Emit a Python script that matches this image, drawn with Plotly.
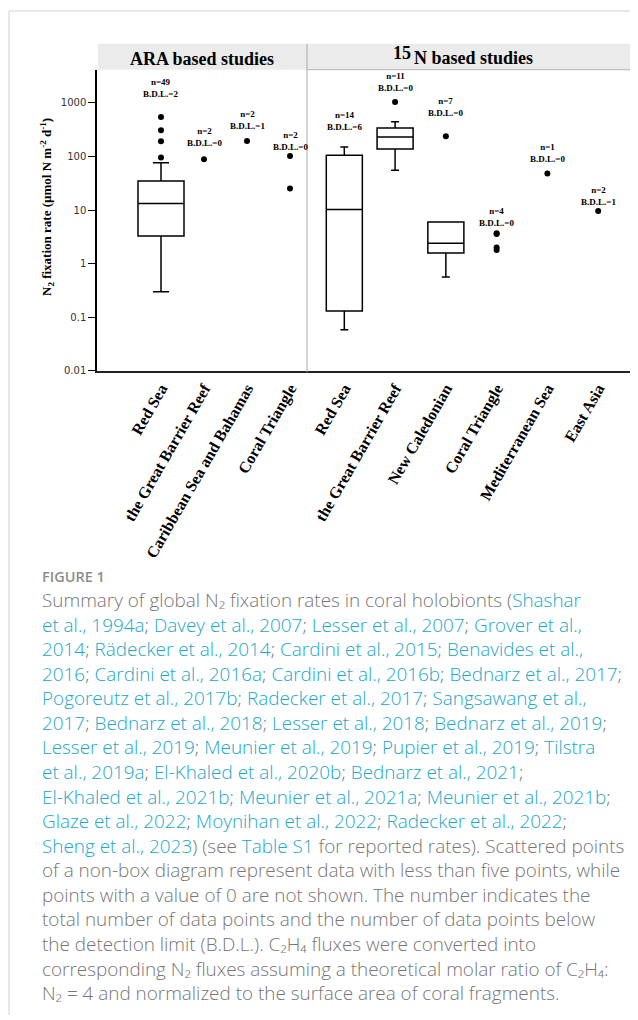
import re
import math
import plotly.graph_objects as go

# page body has an 8px margin, so the figure is 630x1012 drawn at (8, 8)
W, H = 630, 1012
OFF = 8

# ---------------- data ----------------
ara_categories = ["Red Sea", "the Great Barrier Reef", "Caribbean Sea and Bahamas", "Coral Triangle"]
n15_categories = ["Red Sea", "the Great Barrier Reef", "New Caledonian", "Coral Triangle",
                  "Mediterranean Sea", "East Asia"]

# precomputed box statistics (umol N m-2 d-1)
ara_box_cats = ["Red Sea"]
ara_box_q1 = [3.3]
ara_box_median = [13.3]
ara_box_q3 = [35]
ara_box_lower = [0.30]
ara_box_upper = [76]

n15_box_cats = ["Red Sea", "the Great Barrier Reef", "New Caledonian"]
n15_box_q1 = [0.132, 138, 1.58]
n15_box_median = [10.3, 230, 2.42]
n15_box_q3 = [105, 338, 6.0]
n15_box_lower = [0.059, 55.5, 0.566]
n15_box_upper = [150, 444, 6.0]

# individual points (outliers and small-n data)
ara_point_cats = ["Red Sea", "Red Sea", "Red Sea", "Red Sea", "the Great Barrier Reef",
                  "Caribbean Sea and Bahamas", "Coral Triangle", "Coral Triangle"]
ara_point_vals = [543, 307, 192, 96, 89, 194, 102, 25.4]
n15_point_cats = ["the Great Barrier Reef", "New Caledonian", "Coral Triangle", "Coral Triangle",
                  "Coral Triangle", "Coral Triangle", "Mediterranean Sea", "East Asia"]
n15_point_vals = [1040, 237, 3.7, 3.6, 2.0, 1.8, 48, 9.6]

ara_n = [49, 2, 2, 2]
ara_bdl = [2, 0, 1, 0]
n15_n = [14, 11, 7, 4, 1, 2]
n15_bdl = [6, 0, 0, 0, 0, 1]

y_tick_vals = [0.01, 0.1, 1, 10, 100, 1000]
y_tick_text = ["0.01", "0.1", "1", "10", "100", "1000"]


# ---------------- layout helpers ----------------
def fx(x):
    return (x - OFF) / W


def fy(y):
    return 1 - (y - OFF) / H


# annotation heights (data units) for the n / B.D.L. notes
ara_note_y = [1883, 232, 483, 194]
n15_note_y = [450, 2400, 836, 7.55, 118, 18]

SERIF = "Liberation Serif"
SANS = "Open Sans"
GRAY = "#767676"
TEAL = "#22a7c6"

fig = go.Figure()

box_line = dict(color="black", width=1.5)
fig.add_trace(go.Box(
    x=ara_box_cats, q1=ara_box_q1, median=ara_box_median, q3=ara_box_q3,
    lowerfence=ara_box_lower, upperfence=ara_box_upper,
    boxpoints=False, fillcolor="white", line=box_line, width=1.07, whiskerwidth=0.35,
    xaxis="x", yaxis="y", showlegend=False, hoverinfo="skip"))
fig.add_trace(go.Scatter(
    x=ara_point_cats, y=ara_point_vals, mode="markers",
    marker=dict(color="black", size=6), xaxis="x", yaxis="y", showlegend=False))

fig.add_trace(go.Box(
    x=n15_box_cats, q1=n15_box_q1, median=n15_box_median, q3=n15_box_q3,
    lowerfence=n15_box_lower, upperfence=n15_box_upper,
    boxpoints=False, fillcolor="white", line=box_line, width=0.71, whiskerwidth=0.22,
    xaxis="x2", yaxis="y2", showlegend=False, hoverinfo="skip"))
fig.add_trace(go.Scatter(
    x=n15_point_cats, y=n15_point_vals, mode="markers",
    marker=dict(color="black", size=6), xaxis="x2", yaxis="y2", showlegend=False))

y_dom = [fy(373), fy(70)]
y_range = [-2.004, 3.618]
tickfont_x = dict(family=SERIF, size=16, color="black", weight="bold")

fig.update_layout(
    width=W, height=H, margin=dict(l=0, r=0, t=0, b=0),
    paper_bgcolor="white", plot_bgcolor="white", showlegend=False,
    xaxis=dict(domain=[fx(97), fx(307)], anchor="y", type="category",
               categoryorder="array", categoryarray=ara_categories,
               range=[-1.488, 3.395], showline=True, linecolor="#222", linewidth=1.5,
               ticks="", tickangle=-60, tickfont=tickfont_x, showgrid=False, zeroline=False),
    xaxis2=dict(domain=[fx(307), fx(636)], anchor="y2", type="category",
                categoryorder="array", categoryarray=n15_categories,
                range=[-0.735, 5.745], showline=True, linecolor="#222", linewidth=1.5,
                ticks="", tickangle=-60, tickfont=tickfont_x, showgrid=False, zeroline=False),
    yaxis=dict(domain=y_dom, anchor="x", type="log", range=y_range,
               tickvals=y_tick_vals, ticktext=y_tick_text,
               tickfont=dict(family="DejaVu Sans", size=10, color="#333"),
               ticks="outside", ticklen=7, tickcolor="black", tickwidth=1,
               showline=True, linecolor="black", linewidth=1.5, showgrid=False, zeroline=False),
    yaxis2=dict(domain=y_dom, anchor="x2", type="log", range=y_range,
                showticklabels=False, ticks="", showline=False, showgrid=False, zeroline=False),
)

shapes = [
    # page frame
    dict(type="line", xref="paper", yref="paper", x0=fx(9), x1=1, y0=fy(11), y1=fy(11),
         line=dict(color="#d0d0d0", width=1)),
    dict(type="line", xref="paper", yref="paper", x0=fx(9), x1=fx(9), y0=0, y1=fy(11),
         line=dict(color="#d0d0d0", width=1)),
    # header band
    dict(type="rect", xref="paper", yref="paper", x0=fx(98), x1=fx(636), y0=fy(70), y1=fy(44),
         fillcolor="#ebebeb", line=dict(width=0), layer="below"),
    dict(type="line", xref="paper", yref="paper", x0=fx(307), x1=fx(636), y0=fy(70), y1=fy(70),
         line=dict(color="#b4b4b4", width=1)),
    # panel divider
    dict(type="line", xref="paper", yref="paper", x0=fx(307), x1=fx(307), y0=fy(374), y1=fy(44),
         line=dict(color="#a8a8a8", width=1)),
]
fig.update_layout(shapes=shapes)

ann = []
note_font = dict(family=SERIF, size=9, color="black", weight="bold")
for i, (n, b) in enumerate(zip(ara_n, ara_bdl)):
    ann.append(dict(x=i, y=math.log10(ara_note_y[i]), xref="x", yref="y",
                    text=f"n={n}<br>B.D.L.={b}", showarrow=False, font=note_font,
                    xanchor="center", yanchor="middle"))
for i, (n, b) in enumerate(zip(n15_n, n15_bdl)):
    ann.append(dict(x=i, y=math.log10(n15_note_y[i]), xref="x2", yref="y2",
                    text=f"n={n}<br>B.D.L.={b}", showarrow=False, font=note_font,
                    xanchor="center", yanchor="middle"))

head_font = dict(family=SERIF, size=18, color="black", weight="bold")
ann.append(dict(x=fx(202), y=fy(59), xref="paper", yref="paper", text="ARA based studies",
                showarrow=False, font=head_font, xanchor="center", yanchor="middle"))
ann.append(dict(x=fx(413), y=fy(53), xref="paper", yref="paper", text="15",
                showarrow=False, font=head_font, xanchor="right", yanchor="middle"))
ann.append(dict(x=fx(412), y=fy(58), xref="paper", yref="paper", text="N based studies",
                showarrow=False, font=head_font, xanchor="left", yanchor="middle"))

# y-axis title
ann.append(dict(x=fx(47), y=fy(208), xref="paper", yref="paper",
                text="N<sub>2</sub> fixation rate (µmol N m<sup>-2</sup> d<sup>-1</sup>)",
                textangle=-90, showarrow=False,
                font=dict(family=SERIF, size=13, color="black", weight="bold"),
                xanchor="center", yanchor="middle"))

# caption
ann.append(dict(x=fx(40), y=fy(579), xref="paper", yref="paper", text="FIGURE 1",
                showarrow=False, xanchor="left", yanchor="middle",
                font=dict(family=SANS, size=14.5, color="#8c8c8c", weight=600)))

caption_lines = [
    "Summary of global N₂ fixation rates in coral holobionts ({Shashar}",
    "{et al., 1994a}; {Davey et al., 2007}; {Lesser et al., 2007}; {Grover et al.,}",
    "{2014}; {Rädecker et al., 2014}; {Cardini et al., 2015}; {Benavides et al.,}",
    "{2016}; {Cardini et al., 2016a}; {Cardini et al., 2016b}; {Bednarz et al., 2017};",
    "{Pogoreutz et al., 2017b}; {Radecker et al., 2017}; {Sangsawang et al.,}",
    "{2017}; {Bednarz et al., 2018}; {Lesser et al., 2018}; {Bednarz et al., 2019};",
    "{Lesser et al., 2019}; {Meunier et al., 2019}; {Pupier et al., 2019}; {Tilstra}",
    "{et al., 2019a}; {El-Khaled et al., 2020b}; {Bednarz et al., 2021};",
    "{El-Khaled et al., 2021b}; {Meunier et al., 2021a}; {Meunier et al., 2021b};",
    "{Glaze et al., 2022}; {Moynihan et al., 2022}; {Radecker et al., 2022};",
    "{Sheng et al., 2023}) (see {Table S1} for reported rates). Scattered points",
    "of a non-box diagram represent data with less than five points, while",
    "points with a value of 0 are not shown. The number indicates the",
    "total number of data points and the number of data points below",
    "the detection limit (B.D.L.). C₂H₄ fluxes were converted into",
    "corresponding N₂ fluxes assuming a theoretical molar ratio of C₂H₄:",
    "N₂ = 4 and normalized to the surface area of coral fragments.",
]
caption_html = "<br>".join(
    re.sub(r"\{(.*?)\}", lambda m: f"<span style='color:{TEAL}'>{m.group(1)}</span>", line)
    for line in caption_lines)
cap_size = 18.9
mid_line = (len(caption_lines) - 1) / 2
ann.append(dict(x=fx(40), y=fy(604 + 1.3 * cap_size * mid_line), xref="paper", yref="paper",
                text=caption_html, align="left", showarrow=False,
                xanchor="left", yanchor="middle",
                font=dict(family=SANS, size=cap_size, color=GRAY, weight=300)))

fig.update_layout(annotations=ann)
fig.write_html("out.html")
